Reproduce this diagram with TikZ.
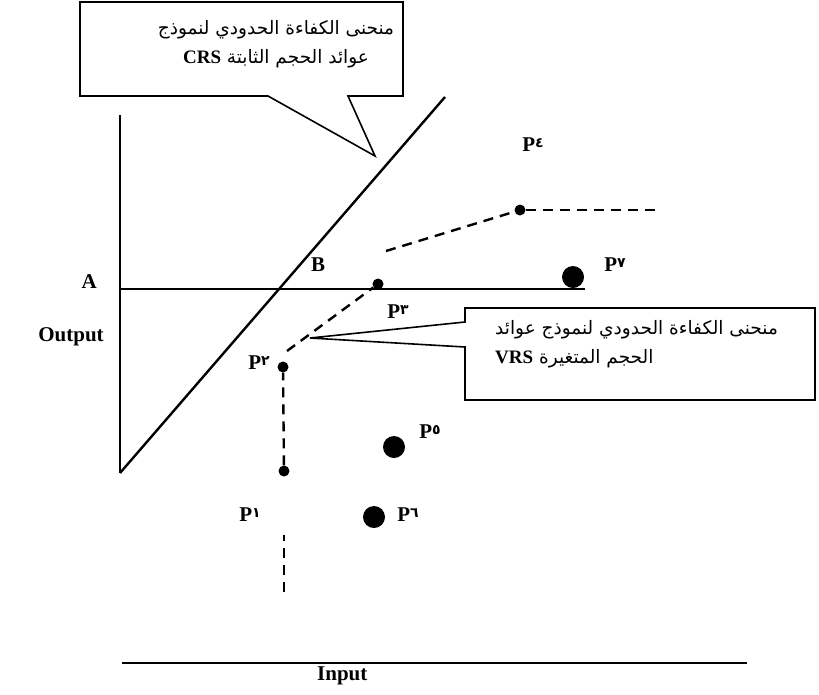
\documentclass[tikz,border=0pt]{standalone}
\usepackage{fontspec}
\setmainfont{Liberation Serif}
\newfontfamily\arabicfont[Script=Arabic]{DejaVu Sans}
\newfontfamily\digitfont{DejaVu Sans}
\TeXXeTstate=1
\newcommand{\plab}[1]{\textbf{P}{\digitfont\bfseries\fontsize{14}{14}\selectfont\raisebox{4pt}{#1}}}
\tikzset{
  sdot/.style={circle,fill=black,inner sep=0pt,minimum size=11pt},
  bdot/.style={circle,fill=black,inner sep=0pt,minimum size=22pt},
  lab/.style={font=\fontsize{21}{21}\selectfont\bfseries,inner sep=0pt},
  frontier/.style={line width=2.4pt,dash pattern=on 10pt off 7pt},
  axisline/.style={line width=2.4pt},
  callout/.style={line width=1.6pt,fill=white},
  artext/.style={font=\arabicfont\fontsize{18.5}{29}\selectfont,inner sep=0pt}
}
\begin{document}
\begin{tikzpicture}[x=1pt,y=-1pt]
\useasboundingbox (0,0) rectangle (819,694);
% axes
\coordinate (ytop) at (120,115);
\coordinate (orig) at (120,473);
\draw[axisline] (ytop) -- (orig);
\coordinate (crsend) at (445,97);
\draw[axisline] (orig) -- (crsend);
\coordinate (hA) at (120,289);
\coordinate (hE) at (585,289);
\draw[axisline] (hA) -- (hE);
\coordinate (xl) at (122,663);
\coordinate (xr) at (747,663);
\draw[axisline] (xl) -- (xr);
% labels of axes
\node[lab,anchor=east] (A) at (97,282) {A};
\node[lab] (B) at (318,265) {B};
\node[lab] (out) at (71,337) {Output};
\node[lab,anchor=north west] (inp) at (317,667) {Input};
% points
\node[sdot] (p1) at (284,471) {};
\node[sdot] (p2) at (283,367) {};
\node[sdot] (p3) at (378,284) {};
\node[sdot] (p4) at (520,210) {};
\node[bdot] (p5) at (394,447) {};
\node[bdot] (p6) at (374,517) {};
\node[bdot] (p7) at (573,277) {};
\coordinate (p1low) at (284,535);
\coordinate (p1bot) at (284,592);
\coordinate (p2up) at (287,351);
\coordinate (q3) at (386,251);
\coordinate (p4r) at (660,210);
% frontier (VRS)
\draw[frontier] (p1bot) -- (p1low);
\draw[frontier] (p1) -- (p2);
\draw[frontier] (p2up) -- (p3);
\draw[frontier] (q3) -- (p4);
\draw[frontier] (p4) -- (p4r);
% point labels
\node[lab] (l1) at (250,515) {\plab{١}};
\node[lab] (l2) at (259,363) {\plab{٢}};
\node[lab] (l3) at (398,312) {\plab{٣}};
\node[lab] (l4) at (533,145) {\plab{٤}};
\node[lab] (l5) at (430,432) {\plab{٥}};
\node[lab] (l6) at (408,515) {\plab{٦}};
\node[lab] (l7) at (615,265) {\plab{٧}};
% top callout
\coordinate (t1) at (348,96);
\coordinate (t2) at (268,96);
\coordinate (tip1) at (375,156);
\draw[callout] (80,2) -- (403,2) -- (403,96) -- (t1) -- (tip1) -- (t2) -- (80,96) -- cycle;
\node[artext,align=center] (crs) at (276,44) {\beginR منحنى الكفاءة الحدودي لنموذج\endR\\\beginR عوائد الحجم الثابتة \beginL{\rmfamily\bfseries\fontsize{19}{19}\selectfont CRS}\endL\endR};
% bottom callout
\coordinate (b1) at (465,322);
\coordinate (b2) at (465,347);
\coordinate (tip2) at (310,338);
\draw[callout] (465,308) -- (815,308) -- (815,400) -- (465,400) -- (b2) -- (tip2) -- (b1) -- cycle;
\node[artext,align=left,anchor=north west] (vrs) at (495,320) {\beginR منحنى الكفاءة الحدودي لنموذج عوائد\endR\\\beginR الحجم المتغيرة \beginL{\rmfamily\bfseries\fontsize{19}{19}\selectfont VRS}\endL\endR};
\end{tikzpicture}
\end{document}
